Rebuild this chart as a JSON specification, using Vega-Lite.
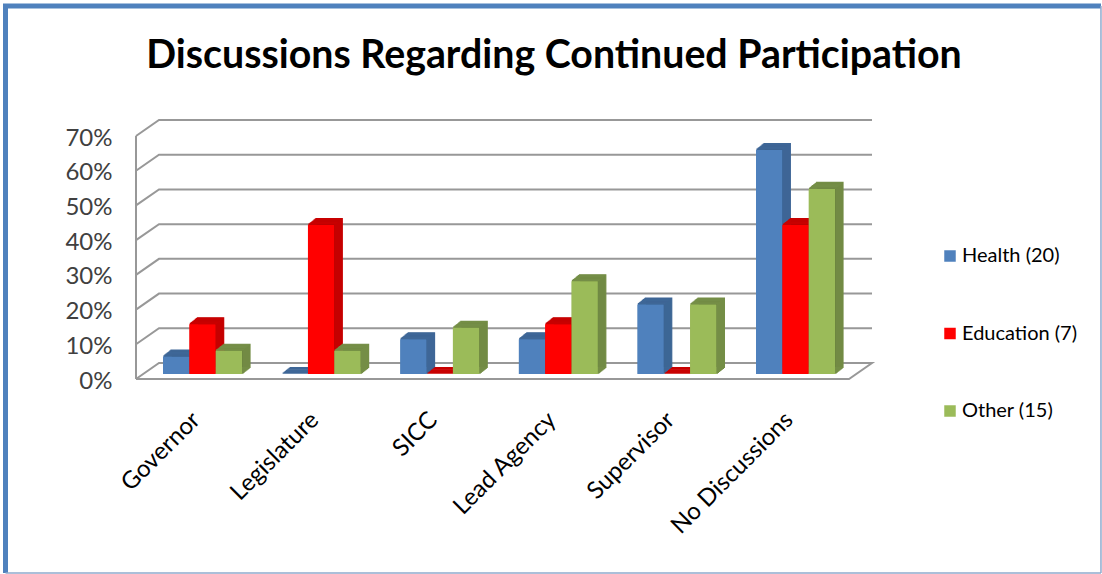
{
"$schema":"https://vega.github.io/schema/vega-lite/v6.json",
"width":736,"height":259,
"padding":{"left":136,"top":120,"right":230,"bottom":195},
"autosize":"none",
"background":"white",
"view":{"stroke":null},
"config":{"font":"Lato","axisY":{"labelOverlap":false,"tickCount":8,"labelFontSize":24,"labelColor":"#404040","labelPadding":24,"labelOffset":2,"domain":false,"ticks":false,"grid":false,"format":".0%"}},
"title":{"text":"Discussions Regarding Continued Participation","font":"Lato","fontSize":39.3,"fontWeight":"bold","color":"black","anchor":"middle","frame":"group","dx":50,"offset":0,"dy":73},
"datasets":{
"results":[
{"role":"Governor","series":"Health (20)","share":0.05},
{"role":"Governor","series":"Education (7)","share":0.143},
{"role":"Governor","series":"Other (15)","share":0.067},
{"role":"Legislature","series":"Health (20)","share":0},
{"role":"Legislature","series":"Education (7)","share":0.429},
{"role":"Legislature","series":"Other (15)","share":0.067},
{"role":"SICC","series":"Health (20)","share":0.1},
{"role":"SICC","series":"Education (7)","share":0},
{"role":"SICC","series":"Other (15)","share":0.133},
{"role":"Lead Agency","series":"Health (20)","share":0.1},
{"role":"Lead Agency","series":"Education (7)","share":0.143},
{"role":"Lead Agency","series":"Other (15)","share":0.267},
{"role":"Supervisor","series":"Health (20)","share":0.2},
{"role":"Supervisor","series":"Education (7)","share":0},
{"role":"Supervisor","series":"Other (15)","share":0.2},
{"role":"No Discussions","series":"Health (20)","share":0.645},
{"role":"No Discussions","series":"Education (7)","share":0.429},
{"role":"No Discussions","series":"Other (15)","share":0.533}
],
"wall":[
{"line":"g0","n":1,"t":0,"v":0},{"line":"g0","n":2,"t":0.03125,"v":0.0461},{"line":"g0","n":3,"t":1,"v":0.0461},{"line":"g0","n":4,"t":0.96875,"v":0},{"line":"g0","n":5,"t":0,"v":0},
{"line":"g10","n":1,"t":0,"v":0.1},{"line":"g10","n":2,"t":0.03125,"v":0.1461},{"line":"g10","n":3,"t":1,"v":0.1461},
{"line":"g20","n":1,"t":0,"v":0.2},{"line":"g20","n":2,"t":0.03125,"v":0.2461},{"line":"g20","n":3,"t":1,"v":0.2461},
{"line":"g30","n":1,"t":0,"v":0.3},{"line":"g30","n":2,"t":0.03125,"v":0.3461},{"line":"g30","n":3,"t":1,"v":0.3461},
{"line":"g40","n":1,"t":0,"v":0.4},{"line":"g40","n":2,"t":0.03125,"v":0.4461},{"line":"g40","n":3,"t":1,"v":0.4461},
{"line":"g50","n":1,"t":0,"v":0.5},{"line":"g50","n":2,"t":0.03125,"v":0.5461},{"line":"g50","n":3,"t":1,"v":0.5461},
{"line":"g60","n":1,"t":0,"v":0.6},{"line":"g60","n":2,"t":0.03125,"v":0.6461},{"line":"g60","n":3,"t":1,"v":0.6461},
{"line":"g70","n":1,"t":0,"v":0.7},{"line":"g70","n":2,"t":0.03125,"v":0.7461},{"line":"g70","n":3,"t":1,"v":0.7461},
{"line":"axis","n":1,"t":0,"v":0},{"line":"axis","n":2,"t":0,"v":0.7}
]
},
"resolve":{"scale":{"x":"independent"},"legend":{"color":"independent"}},
"layer":[
{
"data":{"name":"wall"},
"mark":{"type":"line","color":"#989898","strokeWidth":2,"strokeJoin":"miter","clip":false},
"encoding":{
"x":{"field":"t","type":"quantitative","axis":null,"scale":{"domain":[0,1],"range":[0,736],"nice":false,"zero":false}},
"y":{"field":"v","type":"quantitative","title":null,
"scale":{"domain":[0,0.7],"range":[259,16],"nice":false,"zero":false}},
"detail":{"field":"line"},
"order":{"field":"n"}
}
},
{
"data":{"values":[
{"side":"left","x0":-0.1773,"x1":-0.1773,"y0":1.0745,"y1":-0.5588},
{"side":"top","x0":-0.1807,"x1":1.3111,"y0":1.0745,"y1":1.0745}
]},
"mark":{"type":"rule","color":"#4F81BD","strokeWidth":5},
"encoding":{
"x":{"field":"x0","type":"quantitative","axis":null,"scale":{"domain":[0,1],"range":[0,736],"nice":false,"zero":false}},
"x2":{"field":"x1"},
"y":{"field":"y0","type":"quantitative","title":null},
"y2":{"field":"y1"}
}
},
{
"data":{"values":[
{"side":"right","x0":1.3111,"x1":1.3111,"y0":1.0745,"y1":-0.5588},
{"side":"bottom","x0":-0.1773,"x1":1.3111,"y0":-0.5588,"y1":-0.5588}
]},
"mark":{"type":"rule","color":"#8FAACD","strokeWidth":1.5},
"encoding":{
"x":{"field":"x0","type":"quantitative","axis":null,"scale":{"domain":[0,1],"range":[0,736],"nice":false,"zero":false}},
"x2":{"field":"x1"},
"y":{"field":"y0","type":"quantitative","title":null},
"y2":{"field":"y1"}
}
},
{
"data":{"name":"results"},
"resolve":{"scale":{"xOffset":"independent"}},
"encoding":{
"x":{"field":"role","type":"nominal","sort":null,"title":null,
"scale":{"domain":["Governor","Legislature","SICC","Lead Agency","Supervisor","No Discussions"],"range":[7.2,718.8],"paddingInner":0.334,"paddingOuter":0.167},
"axis":{"domain":false,"ticks":false,"labelAngle":-45,"labelAlign":"right","labelBaseline":"middle","labelPadding":37,"labelOffset":-6,"labelFontSize":24,"labelColor":"black","labelFont":"Lato","labelLimit":300,"labelOverlap":false}},
"y":{"field":"share","type":"quantitative","title":null},
"y2":{"datum":0}
},
"layer":[
{"mark":{"type":"bar","yOffset":-11.5,"y2Offset":-11.5},"encoding":{"xOffset":{"field":"series","scale":{"domain":["Health (20)","Education (7)","Other (15)"],"range":[8,87]}},"fill":{"field":"series","legend":null,"scale":{"domain":["Health (20)","Education (7)","Other (15)"],"range":["#345A85","#A00000","#637A38"]}}}},
{"mark":{"type":"bar","yOffset":-10.7,"y2Offset":-10.7},"encoding":{"xOffset":{"field":"series","scale":{"domain":["Health (20)","Education (7)","Other (15)"],"range":[7,86]}},"fill":{"field":"series","legend":null}}},
{"mark":{"type":"bar","yOffset":-9.9,"y2Offset":-9.9},"encoding":{"xOffset":{"field":"series","scale":{"domain":["Health (20)","Education (7)","Other (15)"],"range":[6,85]}},"fill":{"field":"series","legend":null}}},
{"mark":{"type":"bar","yOffset":-9.1,"y2Offset":-9.1},"encoding":{"xOffset":{"field":"series","scale":{"domain":["Health (20)","Education (7)","Other (15)"],"range":[5,84]}},"fill":{"field":"series","legend":null}}},
{"mark":{"type":"bar","yOffset":-8.3,"y2Offset":-8.3},"encoding":{"xOffset":{"field":"series","scale":{"domain":["Health (20)","Education (7)","Other (15)"],"range":[4,83]}},"fill":{"field":"series","legend":null}}},
{"mark":{"type":"bar","yOffset":-7.5,"y2Offset":-7.5},"encoding":{"xOffset":{"field":"series","scale":{"domain":["Health (20)","Education (7)","Other (15)"],"range":[3,82]}},"fill":{"field":"series","legend":null}}},
{"mark":{"type":"bar","yOffset":-6.7,"y2Offset":-6.7},"encoding":{"xOffset":{"field":"series","scale":{"domain":["Health (20)","Education (7)","Other (15)"],"range":[2,81]}},"fill":{"field":"series","legend":null}}},
{"mark":{"type":"bar","yOffset":-5.9,"y2Offset":-5.9},"encoding":{"xOffset":{"field":"series","scale":{"domain":["Health (20)","Education (7)","Other (15)"],"range":[1,80]}},"fill":{"field":"series","legend":null}}},
{"mark":{"type":"bar","strokeWidth":1.2,"fillOpacity":0,"yOffset":-11.5,"y2Offset":-11.5},"encoding":{"xOffset":{"field":"series","scale":{"domain":["Health (20)","Education (7)","Other (15)"],"range":[8,87]}},"y2":{"field":"share"},"stroke":{"field":"series","legend":null,"scale":{"domain":["Health (20)","Education (7)","Other (15)"],"range":["#3F6797","#C80000","#758E47"]}}}},
{"mark":{"type":"bar","strokeWidth":1.2,"fillOpacity":0,"yOffset":-10.7,"y2Offset":-10.7},"encoding":{"xOffset":{"field":"series","scale":{"domain":["Health (20)","Education (7)","Other (15)"],"range":[7,86]}},"y2":{"field":"share"},"stroke":{"field":"series","legend":null}}},
{"mark":{"type":"bar","strokeWidth":1.2,"fillOpacity":0,"yOffset":-9.9,"y2Offset":-9.9},"encoding":{"xOffset":{"field":"series","scale":{"domain":["Health (20)","Education (7)","Other (15)"],"range":[6,85]}},"y2":{"field":"share"},"stroke":{"field":"series","legend":null}}},
{"mark":{"type":"bar","strokeWidth":1.2,"fillOpacity":0,"yOffset":-9.1,"y2Offset":-9.1},"encoding":{"xOffset":{"field":"series","scale":{"domain":["Health (20)","Education (7)","Other (15)"],"range":[5,84]}},"y2":{"field":"share"},"stroke":{"field":"series","legend":null}}},
{"mark":{"type":"bar","strokeWidth":1.2,"fillOpacity":0,"yOffset":-8.3,"y2Offset":-8.3},"encoding":{"xOffset":{"field":"series","scale":{"domain":["Health (20)","Education (7)","Other (15)"],"range":[4,83]}},"y2":{"field":"share"},"stroke":{"field":"series","legend":null}}},
{"mark":{"type":"bar","strokeWidth":1.2,"fillOpacity":0,"yOffset":-7.5,"y2Offset":-7.5},"encoding":{"xOffset":{"field":"series","scale":{"domain":["Health (20)","Education (7)","Other (15)"],"range":[3,82]}},"y2":{"field":"share"},"stroke":{"field":"series","legend":null}}},
{"mark":{"type":"bar","strokeWidth":1.2,"fillOpacity":0,"yOffset":-6.7,"y2Offset":-6.7},"encoding":{"xOffset":{"field":"series","scale":{"domain":["Health (20)","Education (7)","Other (15)"],"range":[2,81]}},"y2":{"field":"share"},"stroke":{"field":"series","legend":null}}},
{"mark":{"type":"bar","strokeWidth":1.2,"fillOpacity":0,"yOffset":-5.9,"y2Offset":-5.9},"encoding":{"xOffset":{"field":"series","scale":{"domain":["Health (20)","Education (7)","Other (15)"],"range":[1,80]}},"y2":{"field":"share"},"stroke":{"field":"series","legend":null}}}
]
},
{
"data":{"name":"results"},
"mark":{"type":"bar","yOffset":-5,"y2Offset":-5},
"encoding":{
"x":{"field":"role","type":"nominal","sort":null,"axis":null,"scale":{"domain":["Governor","Legislature","SICC","Lead Agency","Supervisor","No Discussions"],"range":[7.2,718.8],"paddingInner":0.334,"paddingOuter":0.167}},
"xOffset":{"field":"series","scale":{"domain":["Health (20)","Education (7)","Other (15)"],"range":[0,79]}},
"y":{"field":"share","type":"quantitative","title":null},
"y2":{"datum":0},
"color":{"field":"series","title":null,"scale":{"domain":["Health (20)","Education (7)","Other (15)"],"range":["#4F81BD","#FF0000","#9BBB59"]},
"legend":{"orient":"right","offset":-62,"padding":126,"symbolType":"square","symbolSize":132,"symbolStrokeWidth":0,"labelFontSize":20,"labelFont":"Lato","labelColor":"black","labelOffset":2,"rowPadding":57.5,"labelLimit":200}}
}
}
]
}
